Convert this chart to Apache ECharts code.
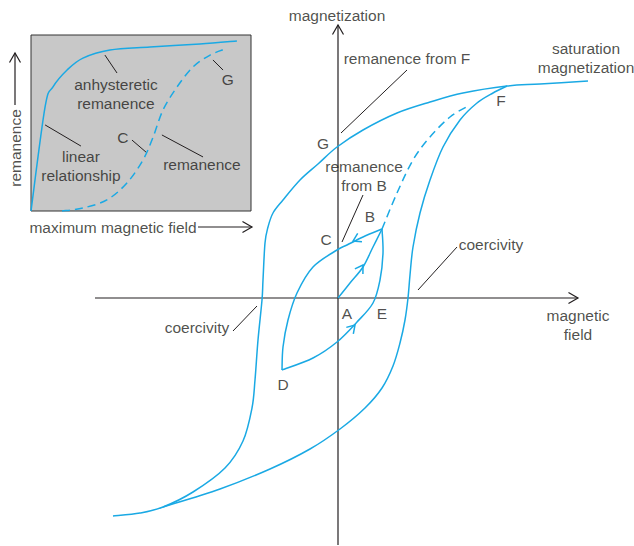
<!DOCTYPE html>
<html><head><meta charset="utf-8">
<script src="https://cdn.jsdelivr.net/npm/echarts@6/dist/echarts.min.js"></script>
<style>html,body{margin:0;padding:0;background:#fff}#c{width:634px;height:546px}</style>
</head><body><div id="c"></div>
<script>
// ---------- Main diagram data (H = magnetic field, M = magnetization; arbitrary units) ----------
const outerUpper = [[2.50,2.17],[2.02,2.14],[1.69,2.12],[1.25,2.05],[0.92,1.96],[0.59,1.85],[0.25,1.68],[-0.01,1.51],[-0.20,1.34],[-0.38,1.18],[-0.55,0.98],[-0.65,0.85],[-0.70,0.71],[-0.73,0.55],[-0.75,0.18],[-0.76,-0.02],[-0.80,-0.42],[-0.83,-0.82],[-0.86,-1.10],[-0.95,-1.43],[-1.13,-1.70],[-1.45,-1.94],[-1.75,-2.09],[-1.98,-2.15],[-2.25,-2.18]];
const outerLower = [[-1.75,-2.09],[-1.18,-1.91],[-0.68,-1.71],[-0.28,-1.51],[0.02,-1.31],[0.27,-1.10],[0.44,-0.90],[0.55,-0.68],[0.62,-0.45],[0.67,-0.22],[0.70,0],[0.72,0.23],[0.75,0.51],[0.82,0.85],[0.92,1.18],[1.05,1.51],[1.22,1.78],[1.39,1.95],[1.55,2.05],[1.69,2.12]];
const initialDashed = [[0.44,0.69],[0.59,1.05],[0.75,1.38],[0.92,1.61],[1.12,1.81],[1.32,1.93]];
const loopAB = [[0,0],[0.12,0.15],[0.25,0.31],[0.35,0.51],[0.44,0.69]];
const loopBD = [[0.44,0.69],[0.25,0.61],[0.09,0.53],[-0.01,0.48],[-0.25,0.31],[-0.41,0.05],[-0.50,-0.22],[-0.55,-0.49],[-0.56,-0.72]];
const loopDB = [[-0.56,-0.72],[-0.25,-0.60],[-0.01,-0.44],[0.19,-0.24],[0.35,-0.05],[0.42,0.18],[0.45,0.45],[0.44,0.69]];
// arrowheads on the minor loop: [H, M, dirH, dirM]
const loopArrows = [[0.25,0.33,0.23,0.36],[0.15,0.57,-0.16,-0.08],[0.17,-0.27,0.12,0.13]];
// axes
const hAxisLine = [[-2.43,0],[2.40,0]];
const vAxisLine = [[0,-2.47],[0,2.73]];
const axisArrows = [[2.40,0,1,0],[0,2.73,0,1],[-3.23,2.45,0,1],[-0.86,0.71,1,0]];
// inset axis-title arrows (drawn in main frame)
const insetTitleArrowV = [[-3.23,1.93],[-3.23,2.45]];
const insetTitleArrowH = [[-1.40,0.71],[-0.86,0.71]];
// labels
const mainLabels = [
  ['magnetization',-0.01,2.83],
  ['remanence from F',0.69,2.40],
  ['saturation\nmagnetization',2.48,2.40],
  ['F',1.63,1.98],
  ['G',-0.15,1.55],
  ['remanence\nfrom B',0.26,1.22],
  ['B',0.32,0.82],
  ['C',-0.12,0.59],
  ['A',0.09,-0.15],
  ['E',0.44,-0.15],
  ['D',-0.55,-0.86],
  ['coercivity',1.53,0.54],
  ['coercivity',-1.41,-0.29],
  ['magnetic\nfield',2.40,-0.27],
  ['maximum magnetic field',-2.25,0.71]
];
const rotatedLabels = [['remanence',-3.23,1.50]];
const mainPointers = [
  [[0.03,1.65],[0.69,2.28]],
  [[0.04,0.56],[0.25,1.03]],
  [[0.80,0.08],[1.19,0.51]],
  [[-1.05,-0.33],[-0.81,-0.08]]
];
// ---------- Inset data (maximum magnetic field vs remanence) ----------
const anhystereticCurve = [[0,0],[0.64,5.91],[1.0,7.05],[1.64,8.01],[2.36,8.69],[3.59,9.15],[5.41,9.32],[7.68,9.49],[9.36,9.66]];
const remanenceCurve = [[1.41,0],[2.36,0.17],[3.45,0.63],[4.36,1.59],[5.09,2.90],[5.55,4.20],[6.0,5.74],[6.64,7.05],[7.36,8.18],[8.14,8.86],[8.82,9.20]];
const insetLabels = [
  ['anhysteretic\nremanence',3.86,6.65],
  ['linear\nrelationship',2.27,2.56],
  ['C',4.18,4.20],
  ['remanence',7.77,2.67],
  ['G',8.95,7.50]
];
const insetPointers = [
  [[3.36,8.86],[3.91,7.84]],
  [[0.64,4.89],[2.27,3.69]],
  [[4.59,4.03],[5.27,3.30]],
  [[5.95,4.32],[7.82,3.07]],
  [[8.27,8.58],[8.73,8.01]]
];

// ---------- styles ----------
const BLUE = '#1aa9e4';
const INK = '#231f20';
const FONT = "'Liberation Sans', Arial, sans-serif";
const FS = 15.5;

// smooth curve (Catmull-Rom spline) through the data points, placed with the axes' scales
function blueCurve(data, xi, dashed){
  return {type:'custom', data, xAxisIndex:xi, yAxisIndex:xi, silent:true, z:3, clip:false,
    renderItem(params, api){
      if (params.dataIndex !== 0) return null;
      const P = data.map(d=>api.coord(d));
      const n = P.length;
      let d = 'M' + P[0][0] + ' ' + P[0][1];
      for (let i=0;i<n-1;i++){
        const p0 = P[Math.max(i-1,0)], p1 = P[i], p2 = P[i+1], p3 = P[Math.min(i+2,n-1)];
        const c1 = [p1[0]+(p2[0]-p0[0])/6, p1[1]+(p2[1]-p0[1])/6];
        const c2 = [p2[0]-(p3[0]-p1[0])/6, p2[1]-(p3[1]-p1[1])/6];
        d += ' C' + c1[0] + ' ' + c1[1] + ' ' + c2[0] + ' ' + c2[1] + ' ' + p2[0] + ' ' + p2[1];
      }
      return {type:'path', shape:{pathData:d}, style:{stroke:BLUE, lineWidth:1.5, fill:'none', lineDash: dashed ? [8,5] : null}};
    }};
}
function blackSeg(data, xi, w){
  return {type:'line', data, xAxisIndex:xi, yAxisIndex:xi, symbol:'none', silent:true,
    lineStyle:{color:INK, width:w||1}, z:2};
}
function chevrons(data, color, L, halfDeg, w){
  return {type:'custom', xAxisIndex:0, yAxisIndex:0, data, silent:true, z:4,
    renderItem(params, api){
      const x=api.value(0), y=api.value(1), dx=api.value(2), dy=api.value(3);
      const p = api.coord([x,y]);
      const q = api.coord([x+dx*0.01, y+dy*0.01]);
      const ang = Math.atan2(q[1]-p[1], q[0]-p[0]);
      const h = halfDeg*Math.PI/180;
      const a1 = ang+Math.PI-h, a2 = ang+Math.PI+h;
      return {type:'polyline', shape:{points:[[p[0]+L*Math.cos(a1),p[1]+L*Math.sin(a1)],p,[p[0]+L*Math.cos(a2),p[1]+L*Math.sin(a2)]]},
        style:{stroke:color, lineWidth:w, fill:'none'}};
    }};
}
function labels(arr, xi, rotate){
  return {type:'scatter', xAxisIndex:xi, yAxisIndex:xi, symbolSize:0, silent:true, z:5,
    data: arr.map(a=>({name:a[0], value:[a[1],a[2]]})),
    label:{show:true, position:'inside', formatter:p=>p.name, color:INK, fontFamily:FONT, fontSize:FS, lineHeight:19, rotate: rotate||0, align:'center', verticalAlign:'middle'}};
}

const series = [
  blackSeg(hAxisLine,0,1.2), blackSeg(vAxisLine,0,1.2),
  blackSeg(insetTitleArrowV,0,1.2), blackSeg(insetTitleArrowH,0,1.2),
  chevrons(axisArrows, INK, 11, 30, 1.2),
  blueCurve(outerUpper,0), blueCurve(outerLower,0), blueCurve(initialDashed,0,true),
  blueCurve(loopAB,0), blueCurve(loopBD,0), blueCurve(loopDB,0),
  chevrons(loopArrows, BLUE, 9, 32, 1.5),
  labels(mainLabels,0), labels(rotatedLabels,0,90),
  blueCurve(anhystereticCurve,1), blueCurve(remanenceCurve,1,true),
  labels(insetLabels,1)
];
mainPointers.forEach(s=>series.push(blackSeg(s,0,1)));
insetPointers.forEach(s=>series.push(blackSeg(s,1,1)));

const hidden = {show:false};
const chart = echarts.init(document.getElementById('c'), null, {renderer:'svg'});
chart.setOption({
  animation:false,
  backgroundColor:'#ffffff',
  grid:[
    {left:0, top:0, width:634, height:546},
    {left:31, top:35, width:220, height:176, show:true, backgroundColor:'#c8c8c8', borderColor:'#333333', borderWidth:1, z:1}
  ],
  xAxis:[
    {type:'value', gridIndex:0, min:-3.38, max:2.96, axisLine:hidden, axisTick:hidden, axisLabel:hidden, splitLine:hidden},
    {type:'value', gridIndex:1, min:0, max:10, axisLine:hidden, axisTick:hidden, axisLabel:hidden, splitLine:hidden}
  ],
  yAxis:[
    {type:'value', gridIndex:0, min:-2.48, max:2.98, axisLine:hidden, axisTick:hidden, axisLabel:hidden, splitLine:hidden},
    {type:'value', gridIndex:1, min:0, max:10, axisLine:hidden, axisTick:hidden, axisLabel:hidden, splitLine:hidden}
  ],
  series
});
</script></body></html>
